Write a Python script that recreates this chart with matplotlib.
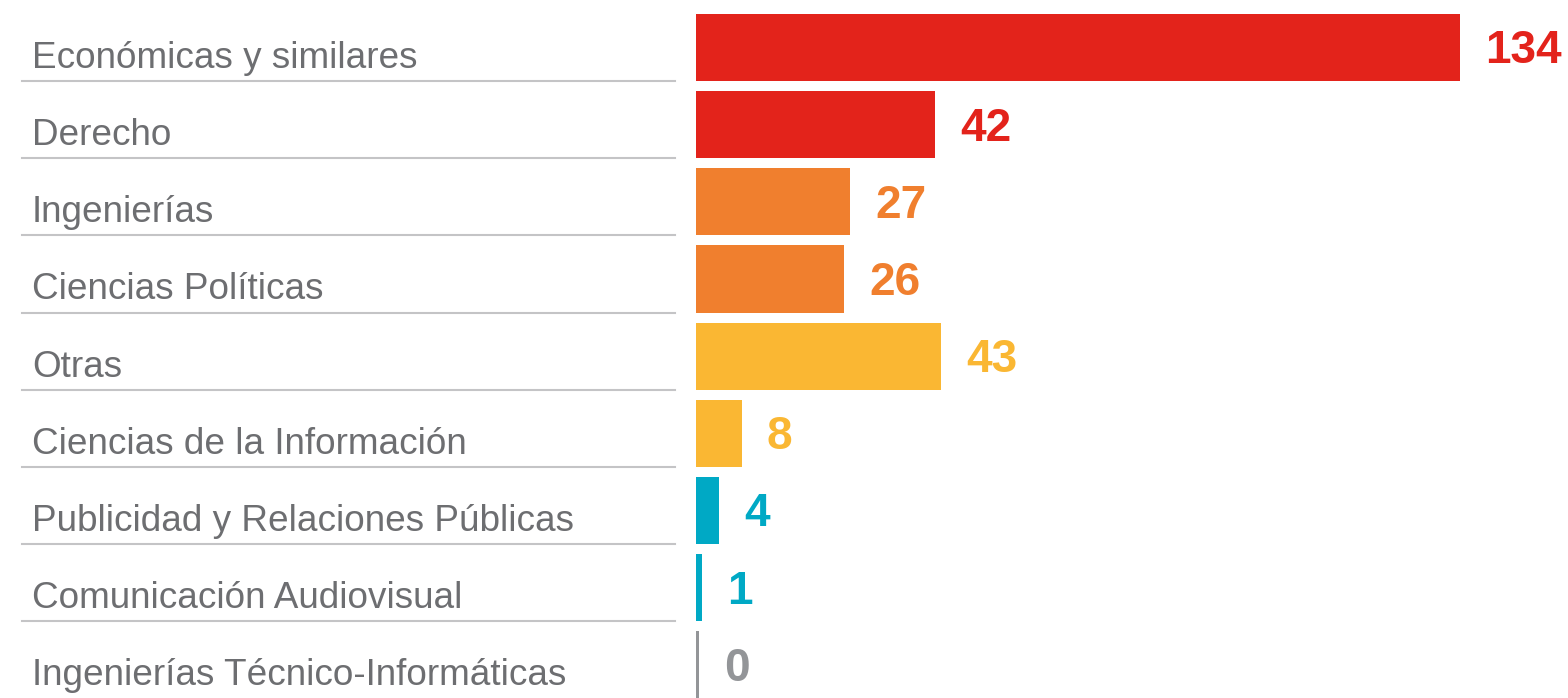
import matplotlib.pyplot as plt
import matplotlib.transforms as mtransforms

categories = [
    "Económicas y similares",
    "Derecho",
    "Ingenierías",
    "Ciencias Políticas",
    "Otras",
    "Ciencias de la Información",
    "Publicidad y Relaciones Públicas",
    "Comunicación Audiovisual",
    "Ingenierías Técnico-Informáticas",
]
values = [134, 42, 27, 26, 43, 8, 4, 1, 0]
colors = ["#e3231b", "#e3231b", "#f07f2e", "#f07f2e", "#fab733",
          "#fab733", "#00a9c5", "#00a9c5", "#939598"]

plt.rcParams['font.family'] = ['Liberation Sans', 'DejaVu Sans']

fig = plt.figure(figsize=(15.68, 6.98), dpi=100)
ax = fig.add_axes([696 / 1568, 0, 1 - 696 / 1568, 1])

rows = list(range(len(categories)))
# zero bars still get a thin stub so the row is visible
widths = [max(v, 0.5) for v in values]
ax.barh(rows, widths, height=0.87, color=colors)

for r, v, c in zip(rows, values, colors):
    ax.annotate(str(v), (widths[r], r), xytext=(25, -4), textcoords='offset pixels',
                ha='left', va='center', fontsize=33, fontweight='bold', color=c)

ax.set_xlim(0, 153)
ax.set_ylim(8.43, -0.615)
ax.axis('off')

trans = mtransforms.blended_transform_factory(fig.transFigure, ax.transData)
for r, name in zip(rows, categories):
    ax.text(32 / 1568, r + 0.265, name, transform=trans, ha='left', va='baseline',
            fontsize=26.6, color='#6d6e71', clip_on=False)
    if r < len(categories) - 1:
        ax.plot([22 / 1568, 675 / 1568], [r + 0.435, r + 0.435], transform=trans,
                color='#c4c4c6', lw=1.5, clip_on=False)

fig.savefig("out.png", dpi=100)
